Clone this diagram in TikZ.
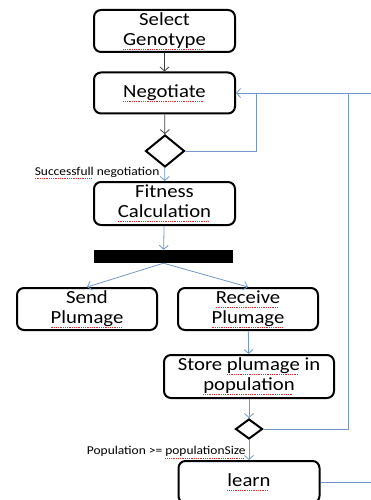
\documentclass[tikz,border=0pt]{standalone}
\usepackage{fontspec}
\setmainfont{Carlito}[FakeStretch=1.12]
\usepackage{xcolor}
\usepackage{tikz}
\usetikzlibrary{shapes.geometric, arrows.meta}
\definecolor{flowblue}{RGB}{115,150,205}
\definecolor{flowgray}{RGB}{64,64,64}
\definecolor{spellred}{RGB}{225,45,45}
\newsavebox\spellbox
\newcommand\spellmark[1]{\sbox\spellbox{#1}\rlap{\textcolor{spellred}{\leaders\hbox{\rule[-4pt]{1pt}{0.6pt}\kern0.8pt}\hskip\wd\spellbox}}\usebox\spellbox}

\begin{document}
\begin{tikzpicture}[
    x=1pt, y=-1pt,
    box/.style={draw, line width=2pt, rounded corners=7pt, minimum width=141pt, minimum height=42pt, inner sep=2pt, font=\fontsize{18.5}{20}\selectfont, align=center},
    decision/.style={diamond, draw, line width=2pt, inner sep=0pt, minimum width=39pt, minimum height=32pt},
    forkbar/.style={fill=black, inner sep=0pt, minimum width=139pt, minimum height=13pt},
    guard/.style={font=\fontsize{12}{14}\selectfont, inner sep=3pt},
    arrow/.style={draw=flowblue, line width=0.8pt, -{Straight Barb[length=4pt, width=9pt]}},
    arrowdark/.style={draw=flowgray, line width=0.8pt, -{Straight Barb[length=4pt, width=9pt]}},
    loop/.style={draw=flowblue, line width=0.8pt}
]
    \useasboundingbox (0,0) rectangle (371,500);

    % Activities
    \node[box] (select) at (164.5,31) {Select\\\spellmark{Genotype}};
    \node[box, minimum height=41pt] (nego) at (164.5,93) {\spellmark{Negotiate}};
    \node[decision] (dec1) at (165,151) {};
    \node[box, minimum height=43pt] (fit) at (164.5,203.5) {Fitness\\\spellmark{Calculation}};
    \node[forkbar] (bar) at (163.5,256.5) {};
    \node[box, minimum width=140pt] (send) at (87,309) {Send\\\spellmark{Plumage}};
    \node[box, minimum width=140pt] (recv) at (248,309) {\spellmark{Receive}\\\spellmark{Plumage}};
    \node[box, minimum width=170pt, minimum height=43pt] (store) at (249,376.5) {Store \spellmark{plumage} in\\\spellmark{population}};
    \node[decision, minimum width=27pt, minimum height=20pt] (dec2) at (249,429) {};
    \node[box] (learn) at (249,482) {\spellmark{learn}};

    % Loop ends
    \coordinate (topin) at (371,93);
    \coordinate (loopa) at (256,93);
    \coordinate (loopb) at (348,93);
    \coordinate (learnout) at (371,482);

    % Arrows
    \draw[arrowdark] (select) -- (nego);
    \draw[arrowdark] (nego) -- (dec1);
    \draw[arrow] (dec1) -- node[guard, pos=0.55, anchor=base east, xshift=-2pt] {\spellmark{Successfull} negotiation} (fit);
    \draw[arrow] (fit) -- (bar);
    \draw[arrow] (bar.south) -- (send.north);
    \draw[arrow] (bar.south) -- (recv.north);
    \draw[arrow] (recv) -- (store);
    \draw[arrow] (store) -- (dec2);
    \draw[arrow] (dec2) -- node[guard, pos=0.72, anchor=base east] {Population >= \spellmark{populationSize}} (learn);

    % Feedback
    \draw[arrow] (topin) -- (nego);
    \draw[loop] (dec1) -| (loopa);
    \draw[loop] (dec2) -| (loopb);
    \draw[loop] (learn) -- (learnout);
\end{tikzpicture}
\end{document}
